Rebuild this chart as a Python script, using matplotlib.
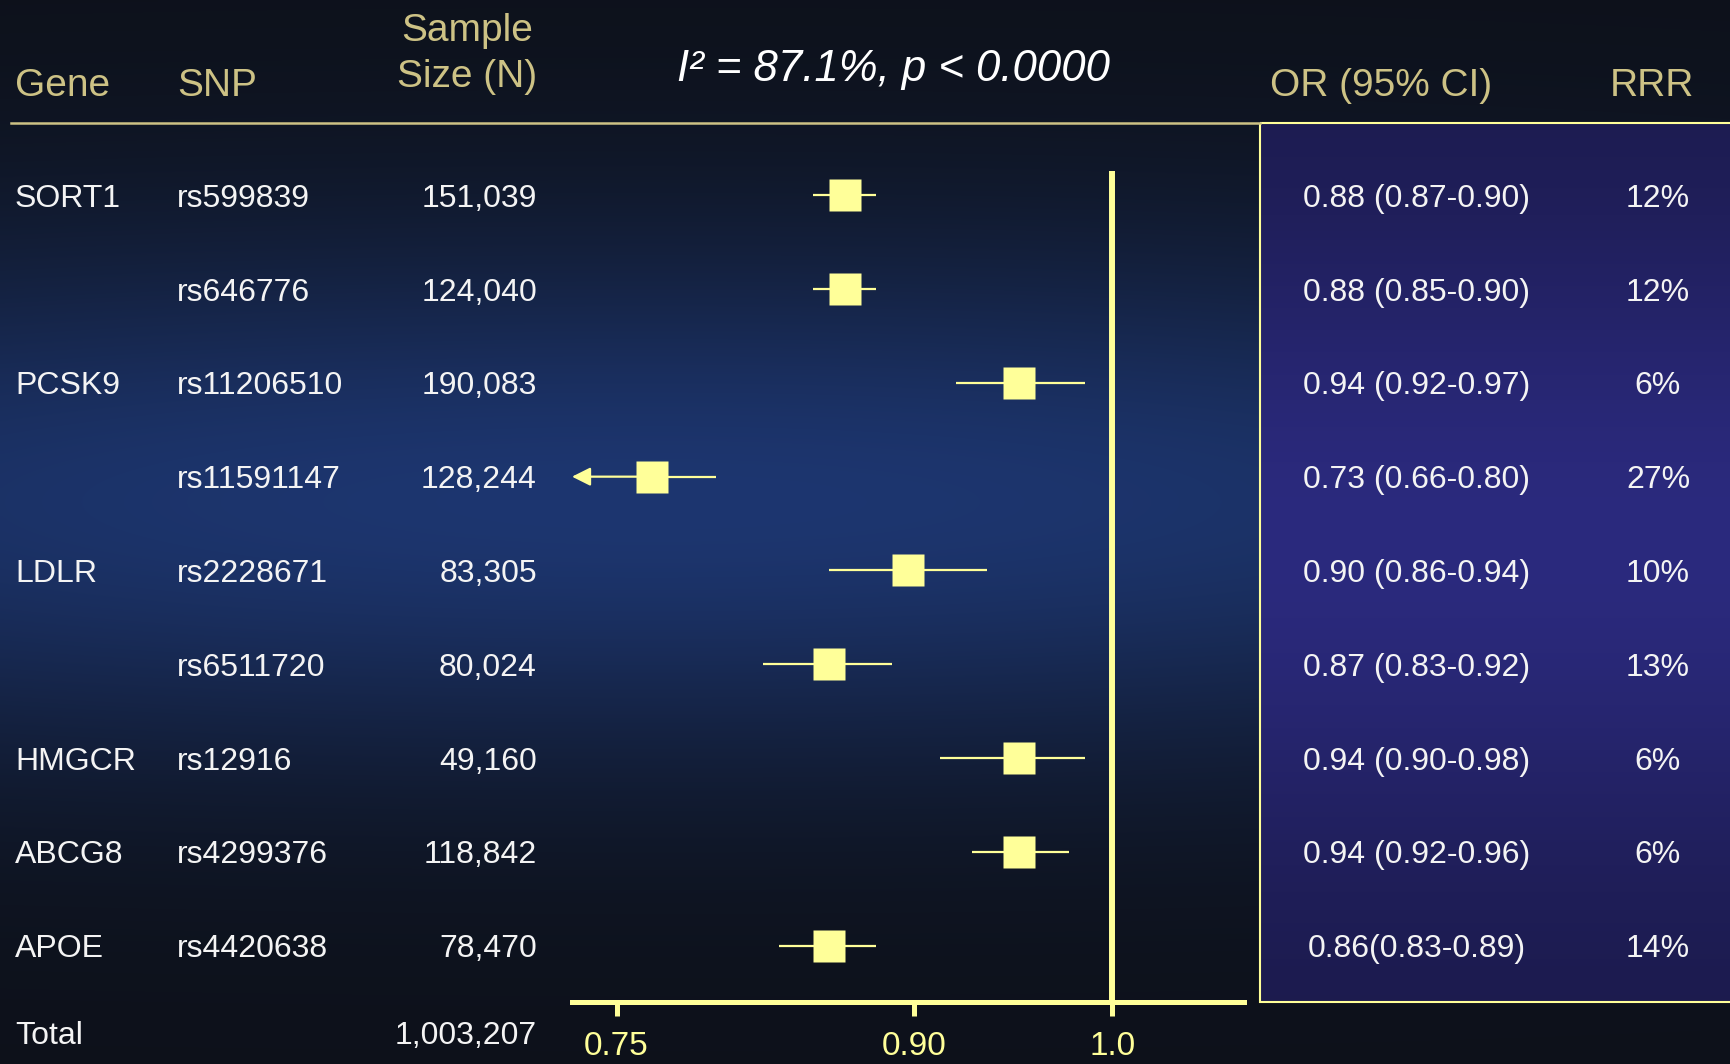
import numpy as np
import matplotlib
matplotlib.use('Agg')
import matplotlib.pyplot as plt
from matplotlib.transforms import blended_transform_factory, offset_copy
from matplotlib.patches import Rectangle

# table columns
genes = ['SORT1', '', 'PCSK9', '', 'LDLR', '', 'HMGCR', 'ABCG8', 'APOE']
snps = ['rs599839', 'rs646776', 'rs11206510', 'rs11591147', 'rs2228671',
        'rs6511720', 'rs12916', 'rs4299376', 'rs4420638']
sample_n = [151039, 124040, 190083, 128244, 83305, 80024, 49160, 118842, 78470]
or_text = ['0.88 (0.87-0.90)', '0.88 (0.85-0.90)', '0.94 (0.92-0.97)',
           '0.73 (0.66-0.80)', '0.90 (0.86-0.94)', '0.87 (0.83-0.92)',
           '0.94 (0.90-0.98)', '0.94 (0.92-0.96)', '0.86(0.83-0.89)']
rrr = [12, 12, 6, 27, 10, 13, 6, 6, 14]

# marker / CI positions as drawn on the OR axis
or_est = [0.865, 0.865, 0.953, 0.768, 0.897, 0.857, 0.953, 0.953, 0.857]
ci_lo = [0.849, 0.849, 0.921, 0.66, 0.857, 0.824, 0.913, 0.929, 0.832]
ci_hi = [0.881, 0.881, 0.986, 0.800, 0.937, 0.889, 0.986, 0.978, 0.881]

x_ticks = [0.75, 0.90, 1.0]
x_tick_labels = ['0.75', '0.90', '1.0']
title = 'I\u00b2 = 87.1%, p < 0.0000'

YEL = '#ffff99'
TAN = '#cdc285'
WHITE = '#f4f4f4'
SANS = ['Liberation Sans', 'DejaVu Sans']

W, H = 1731, 1064
fig = plt.figure(figsize=(W / 100, H / 100), dpi=100)

# background gradient
bg = fig.add_axes([0, 0, 1, 1])
bg.set_xlim(0, W)
bg.set_ylim(H, 0)
bg.axis('off')
yy, xx = np.mgrid[0:H:4, 0:W:4].astype(float)
t = np.exp(-((yy - 500) / 260) ** 2) * (1 - 0.25 * ((xx - 650) / 1000) ** 2)
dark = np.array([13, 17, 26]) / 255
blue = np.array([29, 54, 112]) / 255
img = dark + t[..., None] * (blue - dark)
bg.imshow(img, extent=[0, W, H, 0], aspect='auto', interpolation='bilinear')

# right panel
px0, py0, py1 = 1260, 123, 1002
py = np.linspace(py0, py1, 200)[:, None]
tp = np.exp(-((py - 540) / 320) ** 2)
p_dark = np.array([26, 25, 72]) / 255
p_light = np.array([43, 42, 126]) / 255
pimg = p_dark + tp[..., None] * (p_light - p_dark)
pimg = np.repeat(pimg, 2, axis=1)
bg.imshow(pimg, extent=[px0, W, py1, py0], aspect='auto', interpolation='bilinear')
bg.add_patch(Rectangle((px0, py0), W - px0 + 10, py1 - py0, fill=False,
                       edgecolor=YEL, lw=1.5))
bg.plot([11, px0], [py0, py0], color=TAN, lw=1.8)

# forest plot axes
ax = fig.add_axes([572 / W, 1 - 1002 / H, (1244 - 572) / W, (1002 - 123) / H])
ax.patch.set_alpha(0)
xmin, xmax = 0.7275, 1.0664
ax.set_xlim(xmin, xmax)
ax.set_ylim(8.6, -0.77)
rows = np.arange(len(snps))

for y, est, lo, hi in zip(rows, or_est, ci_lo, ci_hi):
    if lo < xmin:
        # CI runs off the axis: draw an arrow to the left edge
        ax.annotate('', xy=(xmin, y), xytext=(est, y),
                    arrowprops=dict(arrowstyle='-|>', color=YEL, lw=1.6,
                                    mutation_scale=28, shrinkA=0, shrinkB=0),
                    annotation_clip=False)
        lo = est
    ax.plot([lo, hi], [y, y], color=YEL, lw=1.6, solid_capstyle='butt')
ax.plot(or_est, rows, 's', ms=23, color=YEL, mec='none')
ax.vlines(1.0, -0.26, 8.6, color=YEL, lw=4.3)

for side in ['top', 'left', 'right']:
    ax.spines[side].set_visible(False)
ax.spines['bottom'].set_color(YEL)
ax.spines['bottom'].set_linewidth(3.6)
ax.set_yticks([])
ax.set_xticks(x_ticks, labels=x_tick_labels, fontsize=24, family=SANS)
ax.tick_params(axis='x', colors=YEL, length=10, width=3.6, pad=11)

# table text
tr = offset_copy(blended_transform_factory(bg.transData, ax.transData),
                 fig=fig, y=-3.5, units='dots')
kw = dict(transform=tr, va='center', fontsize=23, color=WHITE, family=SANS)
for y, g, s, n, o, r in zip(rows, genes, snps, sample_n, or_text, rrr):
    fig.text(15, y, g, ha='left', **kw)
    fig.text(177, y, s, ha='left', **kw)
    fig.text(537, y, f'{n:,}', ha='right', **kw)
    fig.text(1417, y, o, ha='center', **kw)
    fig.text(1658, y, f'{r}%', ha='center', **kw)
fig.text(15, 8.93, 'Total', ha='left', **kw)
fig.text(537, 8.93, f'{sum(sample_n):,}', ha='right', **kw)

# headers
hk = dict(va='center', fontsize=28, color=TAN, family=SANS)
bg.text(15, 86, 'Gene', ha='left', **hk)
bg.text(177, 86, 'SNP', ha='left', **hk)
bg.text(467, 31, 'Sample', ha='center', **hk)
bg.text(467, 77, 'Size (N)', ha='center', **hk)
bg.text(1381, 86, 'OR (95% CI)', ha='center', **hk)
bg.text(1652, 86, 'RRR', ha='center', **hk)
bg.text(894, 69, title, ha='center', va='center', fontsize=31.5, color='white',
        style='italic', family=SANS)

fig.savefig('out.png', dpi=100)
